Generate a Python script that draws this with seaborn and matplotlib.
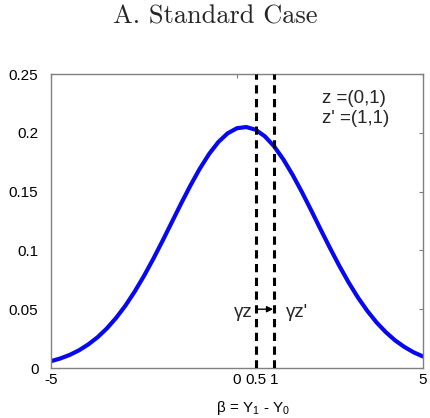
import matplotlib
matplotlib.use("Agg")
import matplotlib.pyplot as plt
import numpy as np
import pandas as pd
import seaborn as sns

# Density of the treatment effect beta = Y1 - Y0
beta = [-5.0, -4.75, -4.5, -4.25, -4.0, -3.75, -3.5, -3.25, -3.0, -2.75,
        -2.5, -2.25, -2.0, -1.75, -1.5, -1.25, -1.0, -0.75, -0.5, -0.25,
        0.0, 0.25, 0.5, 0.75, 1.0, 1.25, 1.5, 1.75, 2.0, 2.25,
        2.5, 2.75, 3.0, 3.25, 3.5, 3.75, 4.0, 4.25, 4.5, 4.75, 5.0]
density = [0.0058, 0.0081, 0.0111, 0.0150, 0.0200, 0.0261, 0.0336, 0.0426, 0.0530, 0.0650,
           0.0783, 0.0928, 0.1082, 0.1241, 0.1400, 0.1553, 0.1695, 0.1820, 0.1922, 0.1996,
           0.2039, 0.2049, 0.2026, 0.1970, 0.1884, 0.1772, 0.1640, 0.1493, 0.1337, 0.1177,
           0.1020, 0.0869, 0.0728, 0.0600, 0.0487, 0.0388, 0.0305, 0.0235, 0.0179, 0.0133, 0.0098]

# Index values gamma*z and gamma*z'
gamma_z = [0.5, 1.0]
x_ticks = [-5, 0, 0.5, 1, 5]
x_tick_labels = ["-5", "0", "0.5", "1", "5"]
y_ticks = [0, 0.05, 0.1, 0.15, 0.2, 0.25]
y_tick_labels = ["0", "0.05", "0.1", "0.15", "0.2", "0.25"]

sns.set_theme(style="white")
plt.rcParams["font.family"] = ["Liberation Sans", "DejaVu Sans"]
plt.rcParams["mathtext.fontset"] = "custom"
plt.rcParams["mathtext.rm"] = "Liberation Sans"
plt.rcParams["mathtext.it"] = "Liberation Sans"
plt.rcParams["lines.solid_joinstyle"] = "round"

df = pd.DataFrame({"beta": beta, "density": density})

fig = plt.figure(figsize=(4.31, 4.18), dpi=100)
ax = fig.add_axes([51 / 431, 50 / 418, 372 / 431, 294 / 418])

sns.lineplot(data=df, x="beta", y="density", ax=ax, color="#0808f0",
             linewidth=3.0, clip_on=True)

for gz in gamma_z:
    ax.axvline(gz, color="black", linewidth=2.2, linestyle=(0, (2.7, 1.8)), zorder=3)

ax.set_xlim(-5, 5)
ax.set_ylim(0, 0.25)
ax.set_xticks(x_ticks)
ax.set_xticklabels(x_tick_labels)
ax.set_yticks(y_ticks)
ax.set_yticklabels(y_tick_labels)

ax.tick_params(axis="both", which="major", direction="in", length=3, width=0.8,
               color="#808080", labelsize=11, labelcolor="black",
               top=True, right=True)
ax.tick_params(axis="x", pad=3.5)
ax.tick_params(axis="y", pad=9)

for side in ["left", "right", "top", "bottom"]:
    ax.spines[side].set_visible(True)
    ax.spines[side].set_color("#808080")
    ax.spines[side].set_linewidth(1.0)

ax.set_ylabel("")
ax.set_xlabel(r"$\beta$ = Y$_1$ - Y$_0$", fontsize=11, color="black")
ax.xaxis.set_label_coords(0.543, -0.105)
ax.xaxis.label.set_va("top")

# Covariate vectors
ax.text(0.728, 0.918, "z =(0,1)", transform=ax.transAxes, fontsize=13.5,
        ha="left", va="center")
ax.text(0.728, 0.848, "z' =(1,1)", transform=ax.transAxes, fontsize=13.5,
        ha="left", va="center")

# Shift of the index from gamma*z to gamma*z'
ax.text(gamma_z[0] - 0.08, 0.0475, "γz", fontsize=13.5, ha="right", va="center")
ax.text(gamma_z[1] + 0.32, 0.0475, "γz'", fontsize=13.5, ha="left", va="center")
ax.annotate("", xy=(gamma_z[1] - 0.03, 0.0500), xytext=(gamma_z[0] + 0.03, 0.0500),
            arrowprops=dict(arrowstyle="-|>", color="black", lw=1.0,
                            mutation_scale=9, shrinkA=0, shrinkB=0))

fig.text(0.5, 1 - 17 / 418, "A. Standard Case", ha="center", va="center",
         fontsize=19, family="cmr10")

fig.savefig("out.png", dpi=100)
